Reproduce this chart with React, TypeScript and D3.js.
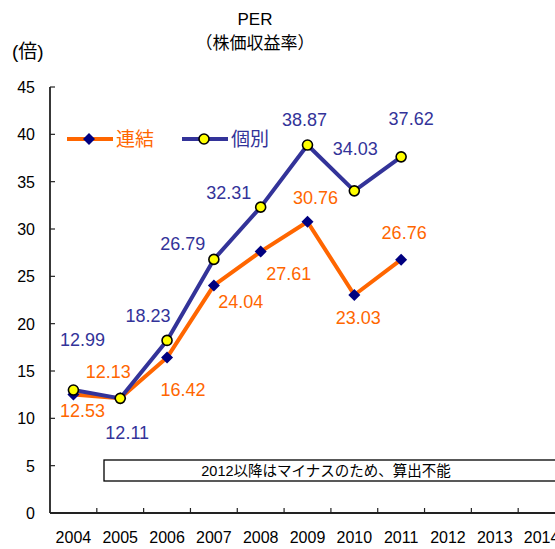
import React, { useEffect, useRef } from "react";
import * as d3 from "d3";

// data
const years = ["2004", "2005", "2006", "2007", "2008", "2009", "2010", "2011", "2012", "2013", "2014"];
const dataYears = ["2004", "2005", "2006", "2007", "2008", "2009", "2010", "2011"];
const consolidated = [12.53, 12.13, 16.42, 24.04, 27.61, 30.76, 23.03, 26.76]; // 連結
const standalone = [12.99, 12.11, 18.23, 26.79, 32.31, 38.87, 34.03, 37.62]; // 個別
const yTicks = [0, 5, 10, 15, 20, 25, 30, 35, 40, 45];

// label nudges (px) so the numbers don't sit on the lines
const consLabelOff = [[9, 16], [-12, -27], [16, 32], [27, 16], [28, 22], [8, -24], [4, 23], [3, -27]];
const standLabelOff = [[9, -51], [7, 34], [-19, -25], [-31, -16], [-32, -15], [-3, -26], [1, -42], [10, -38]];

const ORANGE = "#FF6600";
const NAVY = "#333399";
const DIAMOND = "#000080";
const YELLOW = "#FFFF00";
const FONT = "'Liberation Sans', Arial, 'Noto Sans CJK JP', sans-serif";

const App = () => {
  const svgRef = useRef<SVGSVGElement | null>(null);
  const w = 555;
  const h = 549;
  const m = { top: 87, left: 50, bottom: 36 };

  useEffect(() => {
    d3.select(svgRef.current).selectAll("*").remove();
    const svg = d3.select(svgRef.current);

    const x = d3.scaleBand().domain(years).range([m.left, 565]);
    const y = d3.scaleLinear().domain([0, 45]).range([h - m.bottom, m.top]);
    const cx = (d: string) => x(d)! + x.bandwidth() / 2;

    // titles
    svg.append("text").attr("x", 255).attr("y", 25).attr("text-anchor", "middle")
      .style("font-family", FONT).style("font-size", "17px").text("PER");
    svg.append("text").attr("x", 255).attr("y", 49).attr("text-anchor", "middle")
      .style("font-family", FONT).style("font-size", "17px").text("（株価収益率）");
    svg.append("text").attr("x", 12).attr("y", 58)
      .style("font-family", FONT).style("font-size", "19px").text("(倍)");

    // y axis, ticks pointing inside
    svg.append("line").attr("x1", m.left).attr("x2", m.left)
      .attr("y1", y(45)).attr("y2", y(0)).attr("stroke", "#222").attr("stroke-width", 1.8);
    yTicks.forEach((t) => {
      svg.append("line").attr("x1", m.left).attr("x2", m.left + 5)
        .attr("y1", y(t)).attr("y2", y(t)).attr("stroke", "#222").attr("stroke-width", 1.2);
      svg.append("text").attr("x", 35).attr("y", y(t) + 6)
        .attr("text-anchor", "end")
        .style("font-family", FONT).style("font-size", "16px").text(t);
    });

    // x axis
    svg.append("line").attr("x1", m.left).attr("x2", w)
      .attr("y1", y(0)).attr("y2", y(0)).attr("stroke", "#222").attr("stroke-width", 1.8);
    years.forEach((yr) => {
      const bx = x(yr)! + x.bandwidth();
      svg.append("line").attr("x1", bx).attr("x2", bx)
        .attr("y1", y(0)).attr("y2", y(0) - 5).attr("stroke", "#222").attr("stroke-width", 1.2);
      svg.append("text").attr("x", cx(yr)).attr("y", 543)
        .attr("text-anchor", "middle")
        .style("font-family", FONT).style("font-size", "16px").text(yr);
    });

    // note box
    svg.append("rect").attr("x", 104).attr("y", 460).attr("width", 470).attr("height", 21)
      .attr("fill", "#fff").attr("stroke", "#000").attr("stroke-width", 1.3);
    svg.append("text").attr("x", 326).attr("y", 476).attr("text-anchor", "middle")
      .style("font-family", FONT).style("font-size", "14.5px").text("2012以降はマイナスのため、算出不能");

    const line = d3.line<number>()
      .x((_, i) => cx(dataYears[i]))
      .y((d) => y(d));

    const diamond = d3.symbol().type(d3.symbolSquare).size(72);

    // 連結
    svg.append("path").attr("d", line(consolidated)).attr("fill", "none")
      .attr("stroke", ORANGE).attr("stroke-width", 4).attr("stroke-linejoin", "round");
    // 個別
    svg.append("path").attr("d", line(standalone)).attr("fill", "none")
      .attr("stroke", NAVY).attr("stroke-width", 4).attr("stroke-linejoin", "round");

    svg.selectAll(".dia").data(consolidated).enter().append("path")
      .attr("class", "dia")
      .attr("d", diamond()!)
      .attr("transform", (d, i) => `translate(${cx(dataYears[i])},${y(d)}) rotate(45)`)
      .attr("fill", DIAMOND);

    svg.selectAll(".dot").data(standalone).enter().append("circle")
      .attr("class", "dot")
      .attr("cx", (_, i) => cx(dataYears[i]))
      .attr("cy", (d) => y(d))
      .attr("r", 5)
      .attr("fill", YELLOW).attr("stroke", "#000").attr("stroke-width", 1.6);

    // value labels
    consolidated.forEach((v, i) => {
      svg.append("text")
        .attr("x", cx(dataYears[i]) + consLabelOff[i][0])
        .attr("y", y(v) + consLabelOff[i][1] + 6.5)
        .attr("text-anchor", "middle").attr("fill", ORANGE)
        .style("font-family", FONT).style("font-size", "18px").text(v.toFixed(2));
    });
    standalone.forEach((v, i) => {
      svg.append("text")
        .attr("x", cx(dataYears[i]) + standLabelOff[i][0])
        .attr("y", y(v) + standLabelOff[i][1] + 6.5)
        .attr("text-anchor", "middle").attr("fill", NAVY)
        .style("font-family", FONT).style("font-size", "18px").text(v.toFixed(2));
    });

    // legend
    const ly = 139;
    svg.append("line").attr("x1", 67).attr("x2", 113).attr("y1", ly).attr("y2", ly)
      .attr("stroke", ORANGE).attr("stroke-width", 4);
    svg.append("path").attr("d", diamond()!).attr("transform", `translate(89,${ly}) rotate(45)`).attr("fill", DIAMOND);
    svg.append("text").attr("x", 116).attr("y", ly + 7).attr("fill", ORANGE)
      .style("font-family", FONT).style("font-size", "19px").text("連結");

    svg.append("line").attr("x1", 182).attr("x2", 228).attr("y1", ly).attr("y2", ly)
      .attr("stroke", NAVY).attr("stroke-width", 4);
    svg.append("circle").attr("cx", 204).attr("cy", ly).attr("r", 5)
      .attr("fill", YELLOW).attr("stroke", "#000").attr("stroke-width", 1.6);
    svg.append("text").attr("x", 231).attr("y", ly + 7).attr("fill", NAVY)
      .style("font-family", FONT).style("font-size", "19px").text("個別");
  }, []);

  return (
    <svg
      ref={svgRef}
      width={w}
      height={h}
      style={{ position: "absolute", left: 0, top: 0, background: "#fff" }}
    ></svg>
  );
};

export default App;
